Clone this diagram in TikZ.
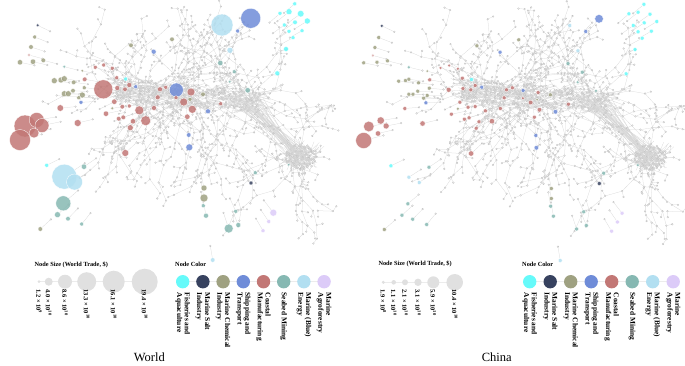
\documentclass[tikz,border=0pt]{standalone}
\usepackage{fontspec}
\setmainfont{Liberation Serif}
\usetikzlibrary{calc}

\definecolor{fishc}{HTML}{66FAFA}
\definecolor{saltc}{HTML}{37425F}
\definecolor{chemc}{HTML}{9FA181}
\definecolor{shipc}{HTML}{6F8CD8}
\definecolor{coastc}{HTML}{C27775}
\definecolor{seabc}{HTML}{86B8B2}
\definecolor{energyc}{HTML}{B2DFF1}
\definecolor{agroc}{HTML}{DCCBF8}

\pgfdeclarelayer{net}
\pgfsetlayers{net,main}

% coloured vertices: x/y/colour/radius world/radius china
\def\colnodes{%
 37.7/25.3/saltc/1.7/1.7, 34.7/37/chemc/2/2, 31/47/chemc/2.3/2, 29/55/coastc!60/1.7/1.7,
 20/62.3/chemc/2.7/2, 33/61.7/chemc/2.7/2, 43.3/60.3/chemc/2.3/2, 64.3/66.7/seabc/1.7/1.7,
 82.3/70.7/chemc/1.5/1.5, 95.3/67.3/coastc/2/1.7, 103.7/65/coastc/2/1.7, 112.3/68.3/coastc/2/1.7,
 54.3/80.7/chemc/3/2, 61/80/chemc/3/2, 64.3/78.7/chemc/3/2, 73.7/82.3/chemc/2.3/2,
 84.7/79.3/coastc/2.3/2, 84.3/87.7/chemc/2/2, 73/90.7/chemc/2.3/2, 64.3/93.7/chemc/3/2,
 68.3/93.7/chemc/3/2, 82.3/95/chemc/3/2, 78.7/97.7/chemc/2/2, 81/102.3/shipc/2/2,
 103.3/89.3/coastc/9.5/2.5, 116.7/77.7/coastc/2/2, 125.7/79/fishc/2/2, 129.3/85/coastc/2.5/2,
 117.3/88/coastc/2.5/2, 125/89.3/coastc/2.3/2, 135.7/86.7/shipc/2/2, 114.3/101.7/coastc/2.7/2,
 122.3/106.7/coastc/2.3/2, 112.3/108.3/chemc/1.7/1.7, 129.3/106/coastc/2/2, 106/113.7/coastc/2.7/2,
 60.3/108/coastc/3.3/2, 118.7/118.7/coastc/2.3/2, 123.3/117.3/coastc/2.3/2, 139.3/110.3/coastc/4.5/2,
 133/121.3/coastc/2.7/2, 130.3/127.7/coastc/3/2, 145.7/120.7/coastc/5/2.7, 154/108/coastc/2.5/2,
 157.7/97.3/coastc/2.5/2, 160/89.3/coastc/2.5/2, 165.7/87.3/coastc/2/2, 77.7/123/coastc/3.5/2.7,
 25/126/coastc/11/5.3, 36.7/120/coastc/7.5/3.7, 42/125.5/coastc/7/3, 20/140/coastc/10.5/8,
 34/133/coastc/5/2.7, 125.3/153/coastc/3.5/2.7, 176.3/90/shipc/7/2, 176/97.7/coastc/2/1.7,
 191/92/coastc/4/2, 183.7/102/coastc/4/2.3, 190/99.3/chemc/2/1.5, 203/94.3/chemc/2.3/2,
 192.3/109.3/coastc/4/2.3, 187.3/116.7/coastc/2.7/2, 220.7/103.7/coastc/2/2, 208/111.3/shipc/2.5/2.3,
 188.7/135/shipc/2.3/2, 189.3/147.3/shipc/3.5/2.3, 247.7/90.3/seabc/2.7/1.7, 229.7/81.7/seabc/1.7/1.7,
 234.3/71.7/seabc/2/2, 220.3/63/seabc/2.7/2, 230/50.3/energyc/3/2, 237.7/31/shipc/2/2,
 172/39.3/chemc/2.3/2, 131/45.3/chemc/2.3/2, 153.7/51.7/shipc/2.5/2, 222/25/energyc/11/2,
 250.7/18.3/shipc/10/4.3, 294.7/3.8/fishc/2/2, 289/11.7/fishc/3/2, 300.7/13.7/fishc/3.3/2,
 307.3/21/fishc/3/2, 280/13.3/fishc/2/2, 284.3/25/fishc/2/2, 295/22.3/fishc/2.3/2,
 289/31.3/fishc/2/2, 302/30.7/fishc/2/2, 293/37.7/fishc/2/2, 286/49/fishc/2.5/2,
 277.3/73.3/fishc/2.5/2, 288.7/164.7/seabc/1.5/1.7, 255.3/172.7/seabc/2/2, 251/183/saltc/2/2,
 204/188/chemc/3/2, 204/198/chemc/4/2, 203.3/205.7/seabc/2/2, 206/215.7/seabc/2.5/2,
 235.7/211.3/seabc/2/2, 238.3/225/seabc/2.5/2, 228.7/228.5/seabc/4.5/2, 273.3/212.7/agroc/3.5/2,
 268.7/221.5/agroc/2/2, 263/230.7/agroc/2/2, 46.7/165.3/fishc/2/2, 84/166.7/seabc/2.7/2,
 64.3/176.7/energyc/12.5/2, 74.5/182/energyc/8/2, 63.3/203.3/seabc/7.5/2, 57.5/214.7/seabc/3/2,
 68/218.7/seabc/2.3/2, 81.7/224/seabc/2/2, 40.3/229/chemc/2.3/2, 212.7/260/energyc/2.3/2}

\begin{document}
\begin{tikzpicture}[
  x=1pt, y=-1pt,
  netedge/.style={draw=gray!32, line width=0.25pt},
  netdot/.style={draw=gray!55, fill=gray!12, line width=0.2pt},
  vtx/.style={circle, draw=white, line width=0.3pt, inner sep=0pt, fill opacity=0.85},
  legline/.style={draw=gray!15, line width=0.6pt},
  sizedot/.style={circle, fill=gray!24, inner sep=0pt},
  legdot/.style={circle, inner sep=0pt, minimum size=13.4pt},
  sizelab/.style={rotate=-90, anchor=west, inner sep=0pt, font=\fontsize{6.4}{7}\selectfont\bfseries},
  collab/.style={rotate=-90, anchor=west, inner sep=0pt, align=left, font=\fontsize{7.4}{7.8}\selectfont\bfseries},
  legtitle/.style={anchor=west, inner sep=0pt, font=\fontsize{6.3}{7}\selectfont\bfseries},
  captext/.style={inner sep=0pt, font=\fontsize{12.5}{14}\selectfont}
]
\useasboundingbox (0,0) rectangle (685,365);

% the two panels share one network layout
\foreach \pan/\dx/\xs/\sel in {w/0/1/1, c/343.3/1.02/2}{
\begin{scope}[shift={(\dx,0.5*\sel-0.5)}, xscale=\xs]
  \pgfmathsetseed{4711}
  \coordinate (\pan core) at (185,97);
  \coordinate (\pan hub) at (301,157);
  \begin{pgfonlayer}{net}
    % dense core
    \foreach \k in {1,...,400}{
      \pgfmathsetmacro\ax{188+72*rand}
      \pgfmathsetmacro\ay{96+0.08*(\ax-188)+11*rand}
      \pgfmathsetmacro\bx{\ax+24*rand}
      \pgfmathsetmacro\by{\ay+8*rand}
      \draw[netedge] (\ax,\ay) -- (\bx,\by);
      \path[netdot] (\ax,\ay) circle (0.9pt);
    }
    % right cluster
    \foreach \k in {1,...,170}{
      \pgfmathsetmacro\ra{360*rnd}
      \pgfmathsetmacro\rr{13*sqrt(rnd)}
      \pgfmathsetmacro\ax{301+1.2*\rr*cos(\ra)}
      \pgfmathsetmacro\ay{157+\rr*sin(\ra)}
      \draw[netedge] (\ax,\ay) -- ++(9*rand,9*rand);
      \path[netdot] (\ax,\ay) circle (0.9pt);
    }
    % bundle between core and cluster
    \foreach \k in {1,...,34}{
      \pgfmathsetmacro\ax{222+42*rnd}
      \pgfmathsetmacro\ay{92+18*rnd}
      \pgfmathsetmacro\bx{290+20*rnd}
      \pgfmathsetmacro\by{146+20*rnd}
      \draw[netedge] (\ax,\ay) -- (\bx,\by);
    }
    % outer trees
    \foreach \k in {1,...,86}{
      \pgfmathsetmacro\stx{\k>74 ? 301+8*rand : 118+140*rnd}
      \pgfmathsetmacro\sty{\k>74 ? 157+8*rand : 90+14*rnd+0.07*(\stx-118)}
      \pgfmathsetmacro\sta{360*rnd}
      \xdef\curx{\stx}\xdef\cury{\sty}\xdef\cura{\sta}
      \foreach \s in {1,...,7}{
        \pgfmathsetmacro\newa{\cura+40*rand}
        \pgfmathsetmacro\seglen{7+13*rnd}
        \pgfmathsetmacro\newx{\curx+\seglen*cos(\newa)}
        \pgfmathsetmacro\newy{\cury+\seglen*sin(\newa)}
        \pgfmathsetmacro\twa{\newa+100*rand}
        \pgfmathsetmacro\inb{(\newx>6)*(\newx<334)*(\newy>6)*(\newy<246)}
        \ifdim\inb pt>0.5pt
          \draw[netedge] (\curx,\cury) -- (\newx,\newy) -- ++(\twa:6);
          \path[netdot] (\newx,\newy) circle (0.9pt) ($(\newx,\newy)+(\twa:6)$) circle (0.9pt);
          \xdef\curx{\newx}\xdef\cury{\newy}\xdef\cura{\newa}
        \else
          \pgfmathsetmacro\turn{\cura+150}
          \xdef\cura{\turn}
        \fi
      }
    }
  \end{pgfonlayer}
  % coloured vertices
  \foreach \x/\y/\col/\rw/\rc [count=\i] in \colnodes{
    \pgfmathsetmacro\rad{\sel==1 ? \rw : \rc}
    \pgfmathsetmacro\dia{2*\rad}
    \pgfmathsetmacro\el{\rad+12}
    \node[vtx, fill=\col, minimum size=\dia pt] (\pan\i) at (\x,\y) {};
    \begin{pgfonlayer}{net}
      \draw[netedge] (\pan\i) -- ($(\pan\i)!\el pt!(\pan core)$) coordinate (\pan t\i);
      \path[netdot] (\pan t\i) circle (0.9pt);
    \end{pgfonlayer}
  }
\end{scope}
}

% size legends
\node[legtitle] (wsizetitle) at (34.5,264.7) {Node Size (World Trade, \$)};
\draw[legline] (39,281.7) -- (144.7,281.7);
\foreach \x/\rad/\t [count=\i] in {39/1.5/{1.2 × 10\textsuperscript{9}}, 48.7/4/{4.0 × 10\textsuperscript{10}},
  65/7/{8.6 × 10\textsuperscript{10}}, 86.7/9.5/{13.3 × 10\textsuperscript{10}},
  113.7/11/{16.1 × 10\textsuperscript{10}}, 144.7/13/{19.4 × 10\textsuperscript{10}}}{
  \pgfmathsetmacro\dia{2*\rad}
  \node[sizedot, minimum size=\dia pt] (ws\i) at (\x,281.7) {};
  \node[sizelab] (wl\i) at (\x,289.5) {\t};
}
\node[legtitle] (csizetitle) at (378.3,264) {Node Size (World Trade, \$)};
\draw[legline] (383.3,282.3) -- (454.7,282.3);
\foreach \x/\rad/\t [count=\i] in {383.3/1.7/{1.9 × 10\textsuperscript{8}}, 393.7/2.3/{1.1 × 10\textsuperscript{10}},
  405/3/{2.1 × 10\textsuperscript{10}}, 418/3.7/{3.1 × 10\textsuperscript{10}},
  433.3/6/{5.9 × 10\textsuperscript{10}}, 454.7/8.3/{10.4 × 10\textsuperscript{10}}}{
  \pgfmathsetmacro\dia{2*\rad}
  \node[sizedot, minimum size=\dia pt] (cs\i) at (\x,282.3) {};
  \node[sizelab] (cl\i) at (\x,289.5) {\t};
}

% colour legends
\foreach \pan/\lx/\st in {w/182.7/20.2, c/529.7/20.5}{
  \node[legtitle] (\pan coltitle) at (\lx-7.7,264.5) {Node Color};
  \draw[legline] (\lx,281.7) -- (\lx+7*\st,281.7);
  \foreach \col/\t [count=\i] in {fishc/{Fisheries and\\Aquaculture}, saltc/{Marine Salt\\Industry},
    chemc/{Marine Chemical\\Industry}, shipc/{Shipping and\\Transport}, coastc/{Coastal\\Manufacturing},
    seabc/{Seabed Mining}, energyc/{Marine (Blue)\\Energy}, agroc/{Marine\\Agroforestry}}{
    \node[legdot, fill=\col] (\pan k\i) at (\lx+\i*\st-\st,281.7) {};
    \node[collab] (\pan kl\i) at (\lx+\i*\st-\st,292.5) {\t};
  }
}

\node[captext] (wcap) at (149.3,357) {World};
\node[captext] (ccap) at (496.7,357) {China};
\end{tikzpicture}
\end{document}
